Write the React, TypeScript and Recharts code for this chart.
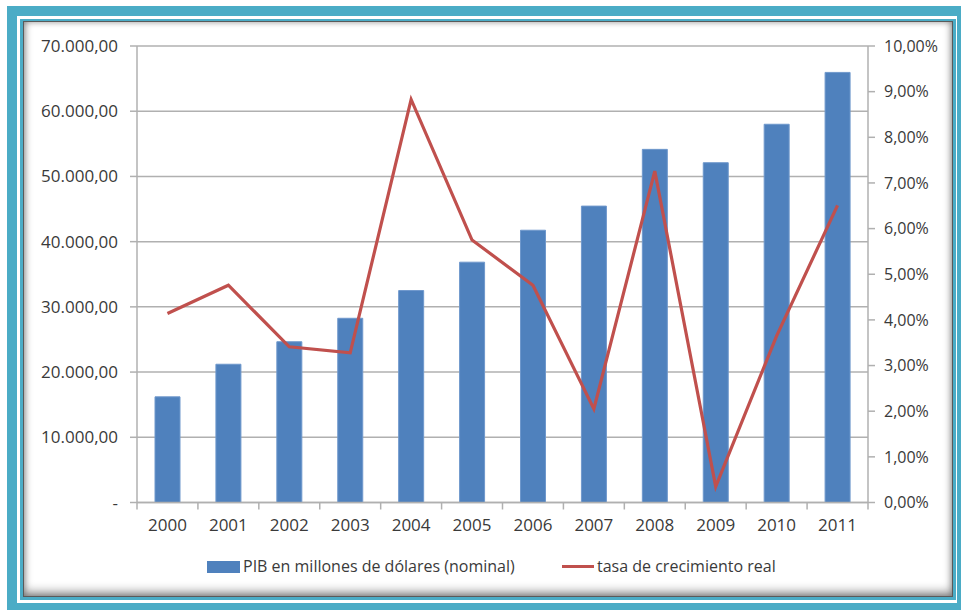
import React from 'react';
import { ComposedChart, Bar, Line, XAxis, YAxis, CartesianGrid } from 'recharts';

const years = ['2000', '2001', '2002', '2003', '2004', '2005', '2006', '2007', '2008', '2009', '2010', '2011'];
const pibNominal = [16200, 21200, 24650, 28250, 32500, 36850, 41750, 45450, 54150, 52100, 58000, 65950];
const tasaCrecimiento = [4.14, 4.76, 3.41, 3.28, 8.83, 5.75, 4.76, 2.05, 7.26, 0.35, 3.65, 6.51];
const leftTicks = [0, 10000, 20000, 30000, 40000, 50000, 60000, 70000];
const rightTicks = [0, 1, 2, 3, 4, 5, 6, 7, 8, 9, 10];
const legendBar = 'PIB en millones de dólares (nominal)';
const legendLine = 'tasa de crecimiento real';

const data = years.map((y, i) => ({ year: y, pib: pibNominal[i], tasa: tasaCrecimiento[i] }));

const TEAL = '#4BACC6';
const FONT = '"Open Sans", sans-serif';
const TEXT = '#3a3a3a';
const AXIS = '#B0B0B0';

const fmtLeft = (v: number) => {
  if (v === 0) return '-';
  const s = String(Math.round(v));
  const parts: string[] = [];
  for (let i = s.length; i > 0; i -= 3) parts.unshift(s.slice(Math.max(0, i - 3), i));
  return parts.join('.') + ',00';
};
const fmtRight = (v: number) => v.toFixed(2).replace('.', ',') + '%';

const XTick = (props: any) => {
  const { x, y, payload, index, visibleTicksCount } = props;
  const half = payload && payload.offset ? payload.offset : 30.46;
  const count = visibleTicksCount || years.length;
  return (
    <g>
      <line x1={x - half} x2={x - half} y1={y} y2={y + 7} stroke={AXIS} strokeWidth={1.5} />
      {index === count - 1 && (
        <line x1={x + half} x2={x + half} y1={y} y2={y + 7} stroke={AXIS} strokeWidth={1.5} />
      )}
      <text x={x} y={y + 28} textAnchor="middle" fill={TEXT} fontSize={17} fontFamily={FONT}>
        {payload.value}
      </text>
    </g>
  );
};

export default function App() {
  return (
    <div style={{ position: 'absolute', left: 0, top: 0, width: 961, height: 610, background: '#fff', overflow: 'hidden' }}>
      <div style={{ position: 'absolute', left: 7, top: 6, width: 954, height: 604, background: TEAL }} />
      <div style={{ position: 'absolute', left: 17, top: 16, width: 940, height: 587, background: '#fff' }} />
      <div style={{ position: 'absolute', left: 20, top: 19, width: 936, height: 581, background: TEAL }} />
      <div
        style={{
          position: 'absolute',
          left: 23,
          top: 21,
          width: 930,
          height: 576,
          background: '#fff',
          boxSizing: 'border-box',
          border: '1px solid #5a5a5a',
          boxShadow: 'inset 0 -5px 10px rgba(0,0,0,0.35), inset 0 0 6px rgba(0,0,0,0.35)',
        }}
      />
      <div style={{ position: 'absolute', left: 0, top: 0 }}>
        <ComposedChart width={961} height={610} data={data} margin={{ top: 46, right: 8, bottom: 67.5, left: 37 }}>
          <CartesianGrid yAxisId="left" vertical={false} stroke={AXIS} strokeWidth={1.5} />
          <XAxis
            dataKey="year"
            height={40}
            stroke={AXIS}
            strokeWidth={1.5}
            tickLine={false}
            tickSize={0}
            tickMargin={0}
            tick={<XTick />}
            interval={0}
          />
          <YAxis
            yAxisId="left"
            orientation="left"
            width={100}
            domain={[0, 70000]}
            ticks={leftTicks}
            interval={0}
            tickFormatter={fmtLeft}
            stroke={AXIS}
            strokeWidth={1.5}
            tickSize={7}
            tickMargin={12}
            tick={{ fill: TEXT, fontSize: 17, fontFamily: FONT }}
          />
          <YAxis
            yAxisId="right"
            orientation="right"
            width={85}
            domain={[0, 10]}
            ticks={rightTicks}
            interval={0}
            tickFormatter={fmtRight}
            stroke={AXIS}
            strokeWidth={1.5}
            tickSize={7}
            tickMargin={9}
            tick={{ fill: TEXT, fontSize: 16, fontFamily: FONT }}
          />
          <Bar yAxisId="left" dataKey="pib" barSize={25} fill="#4F81BD" stroke="#6F98CC" strokeWidth={1} isAnimationActive={false} />
          <Line
            yAxisId="right"
            dataKey="tasa"
            type="linear"
            stroke="#C0504D"
            strokeWidth={3.2}
            dot={false}
            activeDot={false}
            isAnimationActive={false}
          />
        </ComposedChart>
      </div>
      <div style={{ position: 'absolute', left: 207, top: 561, width: 33, height: 12, background: '#4F81BD' }} />
      <div style={{ position: 'absolute', left: 243, top: 555, fontFamily: FONT, fontSize: 16, color: TEXT, whiteSpace: 'nowrap', lineHeight: '22px' }}>
        {legendBar}
      </div>
      <div style={{ position: 'absolute', left: 562, top: 565, width: 32, height: 3, background: '#C0504D' }} />
      <div style={{ position: 'absolute', left: 597, top: 555, fontFamily: FONT, fontSize: 16, color: TEXT, whiteSpace: 'nowrap', lineHeight: '22px' }}>
        {legendLine}
      </div>
    </div>
  );
}
